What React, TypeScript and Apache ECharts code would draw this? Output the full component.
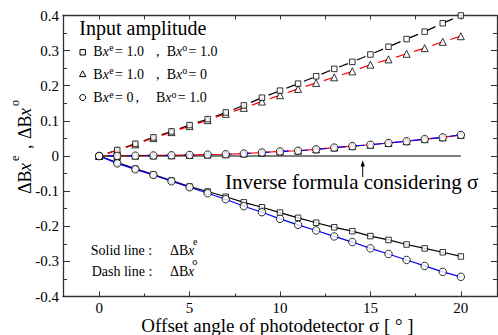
import React, { useEffect, useRef } from 'react';
import * as echarts from 'echarts';

const sigma = [0, 1, 2, 3, 4, 5, 6, 7, 8, 9, 10, 11, 12, 13, 14, 15, 16, 17, 18, 19, 20];
// squares (Bx^e = 1.0, Bx^o = 1.0)
const squareUpper = [0, 0.017, 0.035, 0.053, 0.07, 0.088, 0.105, 0.124, 0.144, 0.166, 0.186, 0.206, 0.227, 0.248, 0.268, 0.289, 0.311, 0.333, 0.354, 0.378, 0.4];
const squareLower = [0, -0.019, -0.036, -0.053, -0.07, -0.087, -0.101, -0.116, -0.132, -0.146, -0.161, -0.176, -0.19, -0.203, -0.214, -0.228, -0.239, -0.252, -0.263, -0.274, -0.286];
// triangles (Bx^e = 1.0, Bx^o = 0)
const triangleUpper = [0, 0.016, 0.033, 0.051, 0.068, 0.085, 0.102, 0.12, 0.137, 0.155, 0.173, 0.191, 0.208, 0.224, 0.241, 0.26, 0.275, 0.291, 0.307, 0.325, 0.341];
const triangleNear = [0, 0.0005, 0.001, 0.0015, 0.002, 0.003, 0.004, 0.005, 0.007, 0.01, 0.013, 0.015, 0.019, 0.024, 0.028, 0.032, 0.037, 0.042, 0.048, 0.053, 0.06];
// circles (Bx^e = 0, Bx^o = 1.0)
const circleNear = [0, 0.0005, 0.001, 0.0015, 0.002, 0.003, 0.004, 0.005, 0.007, 0.01, 0.013, 0.015, 0.019, 0.024, 0.028, 0.032, 0.037, 0.042, 0.048, 0.053, 0.06];
const circleLower = [0, -0.021, -0.038, -0.054, -0.072, -0.089, -0.106, -0.123, -0.143, -0.16, -0.179, -0.196, -0.212, -0.229, -0.245, -0.263, -0.279, -0.296, -0.313, -0.33, -0.344];
// inverse formula considering sigma
const inverseX = [0, 20];
const inverseY = [0, 0];

const xLabelValues = [0, 5, 10, 15, 20];
const xMinorValues = [2.5, 7.5, 12.5, 17.5];
const xTopValues = [0, 2.5, 5, 7.5, 10, 12.5, 15, 17.5, 20];

const FONT = '"Liberation Serif", "Times New Roman", serif';
const AXIS_COLOR = '#333';
const RED = '#ff0000';
const BLUE = '#0000ff';

const zip = (xs: number[], ys: number[]) => xs.map((x, i) => [x, ys[i]]);

function txt(x: number, baseline: number, text: string, fs: number, extra: any = {}) {
  return {
    type: 'text',
    x,
    y: baseline - 0.34 * fs,
    silent: true,
    style: {
      text,
      fontSize: fs,
      fontFamily: FONT,
      fill: '#000',
      align: 'left',
      verticalAlign: 'middle',
      ...extra,
    },
  };
}

function bx(x: number, baseline: number, fs: number, delta = false) {
  const pre = delta ? 'ΔB' : 'B';
  const w = delta ? 1.279 * fs : 0.667 * fs;
  return [txt(x, baseline, pre, fs), txt(x + w, baseline, 'x', fs, { fontStyle: 'italic' })];
}

const lineSeries = (name: string, ys: number[], color: string, dashed: boolean, z = 2) => ({
  name,
  type: 'line',
  data: zip(sigma, ys),
  symbol: 'none',
  z,
  lineStyle: dashed
    ? { color, width: 1.2, type: [9.5, 9.5], dashOffset: 9.5 }
    : { color, width: 1.2, type: 'solid' },
});

const App: React.FC = () => {
  const ref = useRef<HTMLDivElement>(null);
  useEffect(() => {
    if (!ref.current) return;
    const chart = echarts.init(ref.current, undefined, { renderer: 'svg' });
    const markerStyle = { color: '#fff', borderColor: '#000', borderWidth: 1 };
    const labelStyle = { fontFamily: FONT, fontSize: 15, color: '#000' };
    const option: any = {
      animation: false,
      backgroundColor: '#fff',
      textStyle: { fontFamily: FONT },
      grid: { left: 63, right: 1, top: 15.5, bottom: 38.5, containLabel: false },
      xAxis: [
        {
          type: 'value', position: 'bottom', min: -2, max: 22,
          axisLine: { show: true, onZero: false, lineStyle: { color: AXIS_COLOR, width: 1.3 } },
          axisTick: { show: true, inside: true, length: 5, customValues: xLabelValues, lineStyle: { color: AXIS_COLOR } },
          axisLabel: { show: true, customValues: xLabelValues, margin: 4, ...labelStyle },
          splitLine: { show: false },
        },
        {
          type: 'value', position: 'bottom', min: -2, max: 22,
          axisLine: { show: false, onZero: false },
          axisTick: { show: true, inside: true, length: 3, customValues: xMinorValues, lineStyle: { color: AXIS_COLOR } },
          axisLabel: { show: false },
          splitLine: { show: false },
        },
        {
          type: 'value', position: 'top', min: -2, max: 22,
          axisLine: { show: true, onZero: false, lineStyle: { color: AXIS_COLOR, width: 1.3 } },
          axisTick: { show: true, inside: true, length: 4, customValues: xTopValues, lineStyle: { color: AXIS_COLOR } },
          axisLabel: { show: false },
          splitLine: { show: false },
        },
      ],
      yAxis: [
        {
          type: 'value', position: 'left', min: -0.4, max: 0.4, interval: 0.1,
          axisLine: { show: true, onZero: false, lineStyle: { color: AXIS_COLOR, width: 1.3 } },
          axisTick: { show: true, inside: true, length: 7, lineStyle: { color: AXIS_COLOR } },
          minorTick: { show: true, splitNumber: 2, length: 4, lineStyle: { color: AXIS_COLOR } },
          axisLabel: {
            margin: 4, ...labelStyle,
            formatter: (v: number) => (Math.abs(v) < 1e-9 ? '0' : v.toFixed(1)),
          },
          splitLine: { show: false },
        },
        {
          type: 'value', position: 'right', min: -0.4, max: 0.4, interval: 0.1,
          axisLine: { show: true, onZero: false, lineStyle: { color: AXIS_COLOR, width: 1.3 } },
          axisTick: { show: true, inside: true, length: 6, lineStyle: { color: AXIS_COLOR } },
          minorTick: { show: true, splitNumber: 2, length: 4, lineStyle: { color: AXIS_COLOR } },
          axisLabel: { show: false },
          splitLine: { show: false },
        },
      ],
      series: [
        lineSeries('sqUpper', squareUpper, '#000', true),
        lineSeries('triUpper', triangleUpper, RED, true),
        lineSeries('triNear', triangleNear, RED, false),
        lineSeries('circNear', circleNear, BLUE, true, 3),
        lineSeries('sqLower', squareLower, '#000', false),
        lineSeries('circLower', circleLower, BLUE, false),
        {
          name: 'inverse', type: 'line', data: zip(inverseX, inverseY), symbol: 'none', z: 2,
          lineStyle: { color: '#000', width: 1.2 },
        },
        {
          name: 'triMarkers', type: 'scatter', symbol: 'triangle', symbolSize: 7, z: 5,
          data: [...zip(sigma, triangleUpper), ...zip(sigma, triangleNear)], itemStyle: markerStyle,
        },
        {
          name: 'sqMarkers', type: 'scatter', symbol: 'rect', symbolSize: 5.5, z: 5,
          data: [...zip(sigma, squareUpper), ...zip(sigma, squareLower)], itemStyle: markerStyle,
        },
        {
          name: 'circMarkers', type: 'scatter', symbol: 'circle', symbolSize: 7.5, z: 6,
          data: [...zip(sigma, circleNear), ...zip(sigma, circleLower)], itemStyle: markerStyle,
        },
      ],
      graphic: [
        // y axis title (rotated, reads bottom to top)
        {
          type: 'group', x: 31, y: 194, rotation: Math.PI / 2, silent: true,
          children: [
            ...bx(0, 0, 18, true),
            txt(33, -12, 'e', 12),
            txt(45, 0, ',', 18),
            ...bx(55, 0, 18, true),
            txt(88, -12, 'o', 12),
          ],
        },
        // legend header
        txt(79.3, 35, 'Input amplitude', 20),
        // row 1
        { type: 'rect', silent: true, shape: { x: 80, y: 49.6, width: 5.4, height: 5.4 }, style: { fill: '#fff', stroke: '#000', lineWidth: 1 } },
        ...bx(93.3, 56, 14),
        txt(109.3, 51, 'e', 10),
        txt(115, 56, '= 1.0', 14),
        txt(156, 56, ',', 14),
        ...bx(166.7, 56, 14),
        txt(182.3, 51, 'o', 10),
        txt(188.5, 56, '= 1.0', 14),
        // row 2
        { type: 'polygon', silent: true, shape: { points: [[82.7, 70.8], [79.5, 76.6], [85.9, 76.6]] }, style: { fill: '#fff', stroke: '#000', lineWidth: 1 } },
        ...bx(93.3, 79.3, 14),
        txt(109.3, 74.3, 'e', 10),
        txt(115, 79.3, '= 1.0', 14),
        txt(156, 79.3, ',', 14),
        ...bx(166.7, 79.3, 14),
        txt(182.3, 74.3, 'o', 10),
        txt(188.5, 79.3, '= 0', 14),
        // row 3
        { type: 'circle', silent: true, shape: { cx: 82.7, cy: 97.5, r: 3 }, style: { fill: '#fff', stroke: '#000', lineWidth: 1 } },
        ...bx(93.3, 102.7, 14),
        txt(109.3, 97.7, 'e', 10),
        txt(115, 102.7, '= 0', 14),
        txt(135.5, 102.7, ',', 14),
        ...bx(156, 102.7, 14),
        txt(171.6, 97.7, 'o', 10),
        txt(177.8, 102.7, '= 1.0', 14),
        // inverse formula annotation
        txt(225, 189.5, 'Inverse formula considering σ', 21),
        { type: 'line', silent: true, shape: { x1: 362.7, y1: 177, x2: 362.7, y2: 163 }, style: { stroke: '#000', lineWidth: 1 } },
        { type: 'polygon', silent: true, shape: { points: [[362.7, 160.3], [360.6, 166.5], [364.8, 166.5]] }, style: { fill: '#000' } },
        // solid/dash notes
        txt(90.7, 255, 'Solid line :', 14),
        ...bx(170, 255, 14, true),
        txt(193, 245, 'e', 10),
        txt(91.7, 276.7, 'Dash line :', 14),
        ...bx(170, 276.7, 14, true),
        txt(192.3, 265.3, 'o', 10),
        // x axis title
        txt(277.5, 331.7, 'Offset angle of photodetector σ [ ° ]', 19, { align: 'center' }),
      ],
    };
    chart.setOption(option);
    return () => chart.dispose();
  }, []);
  return (
    <div
      ref={ref}
      style={{ position: 'absolute', left: 0, top: 0, width: 498, height: 335, background: '#fff' }}
    />
  );
};

export default App;
